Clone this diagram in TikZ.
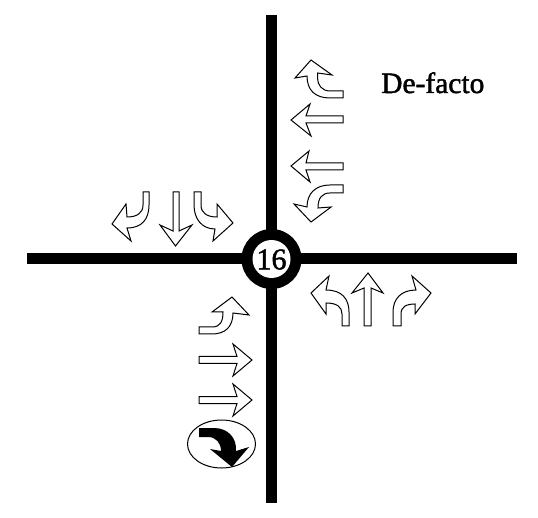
\documentclass[tikz,border=0pt]{standalone}
\usepackage{fontspec}
\setmainfont{Liberation Serif}
\newfontfamily\heavyserif[FakeBold=1.6]{Liberation Serif}
\tikzset{
  road/.style={line width=11pt,black},
  arrowline/.style={draw=black,fill=white,line width=1pt,line join=miter},
  lbl/.style={inner sep=0pt,text=black}
}
\begin{document}
\begin{tikzpicture}[x=1pt,y=-1pt]
\useasboundingbox (0,0) rectangle (538,518);
% roads
\draw[road] (271,15) -- (271,503);
\draw[road] (27,259) -- (517,259);
\fill[black] (271.5,259) circle[radius=30];
\fill[white] (271.5,259) circle[radius=19];
\node[lbl,font=\heavyserif\fontsize{30}{30}\selectfont] (junction) at (271.5,259.5) {16};
\node[lbl,font=\heavyserif\fontsize{29.5}{30}\selectfont,anchor=base west] (defacto) at (381,93) {De-facto};
% north-east approach
\draw[arrowline] (343,91) -- (330,91) .. controls (322,91) and (317.5,85) .. (317.5,78) -- (317.5,73) -- (332,75) -- (311,60) -- (295,78) -- (307,76) .. controls (307,90) and (315,98) .. (330,98) -- (343,98) -- cycle;
\draw[arrowline] (343,116) -- (306,116) -- (310,104) -- (291,120) -- (311,136) -- (306,123) -- (343,123) -- cycle;
\draw[arrowline] (343,163) -- (306,163) -- (309,151) -- (291,166) -- (310,182) -- (306,170) -- (343,170) -- cycle;
\draw[arrowline] (343,185) -- (330,185) .. controls (316,185) and (307,193) .. (307,207) -- (294,204) -- (311,222) -- (331,207) -- (318,208) .. controls (318,198) and (322,193) .. (330,193) -- (343,193) -- cycle;
% north-west approach
\draw[arrowline] (143,192) -- (143,205) .. controls (143,213) and (137,217) .. (127,217) -- (126,204) -- (112,224) -- (131,241) -- (127,228) .. controls (142,228) and (149,219) .. (149,205) -- (149,192) -- cycle;
\draw[arrowline] (173,192) -- (173,231) -- (160,225) -- (175.5,246) -- (192,225) -- (179,231) -- (179,192) -- cycle;
\draw[arrowline] (201,192) -- (201,205) .. controls (201,213) and (207,217) .. (217,217) -- (217,204) -- (233,223) -- (213,241) -- (215,229) .. controls (202,229) and (194,219) .. (194,205) -- (194,192) -- cycle;
% south-east approach
\draw[arrowline] (342,326) -- (342,314) .. controls (342,307) and (337,303) .. (326,303) -- (326,314) -- (311,293) -- (329,276) -- (326,290) .. controls (342,290) and (349,299) .. (349,312) -- (349,326) -- cycle;
\draw[arrowline] (364,326) -- (364,288) -- (352,293) -- (368,273) -- (383,293) -- (371,288) -- (371,326) -- cycle;
\draw[arrowline] (401,326) -- (401,314) .. controls (401,307) and (406,304) .. (415,304) -- (415,314) -- (431,293) -- (412,276) -- (416,290) .. controls (401,290) and (393,299) .. (393,312) -- (393,326) -- cycle;
% south-west approach
\draw[arrowline] (199,327) -- (212,327) .. controls (220,327) and (223,322) .. (223,312) -- (212,312) -- (232,297) -- (249,315) -- (233,313) .. controls (233,327) and (225,334) .. (212,334) -- (199,334) -- cycle;
\draw[arrowline] (199,356.5) -- (237,356.5) -- (233,344) -- (252,360) -- (233,376) -- (237,363.5) -- (199,363.5) -- cycle;
\draw[arrowline] (199,396.5) -- (237,396.5) -- (233,384) -- (252,400) -- (233,416) -- (237,403.5) -- (199,403.5) -- cycle;
% protected movement
\draw[black,fill=white,line width=1pt] (221.5,444) ellipse[x radius=34,y radius=24];
\fill[black] (199,428) -- (214,428) .. controls (228,428) and (237,438) .. (236,451) -- (249,447) -- (232,467) -- (210,449) -- (221,451) .. controls (221,443) and (216,437) .. (208,437) -- (199,437) -- cycle;
\end{tikzpicture}
\end{document}
